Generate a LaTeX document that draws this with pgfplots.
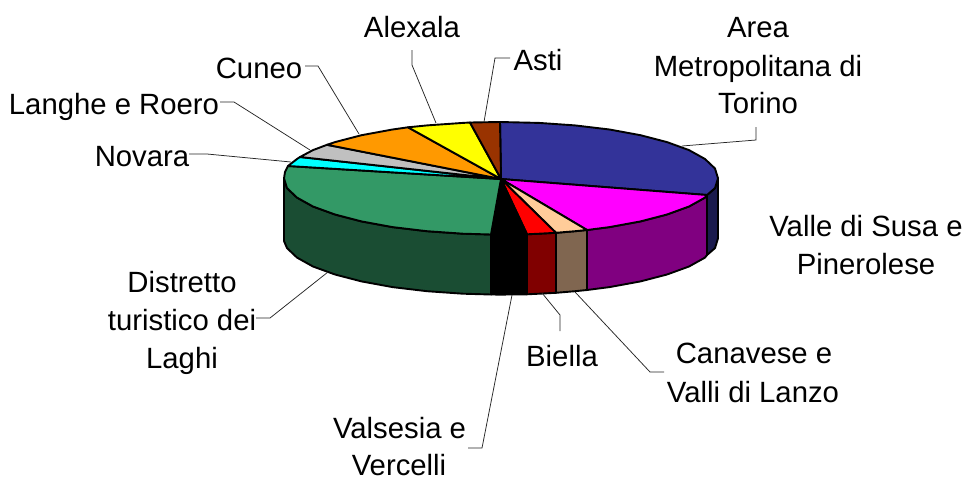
\documentclass[border=0pt]{standalone}
\usepackage{pgfplots}
\pgfplotsset{compat=1.18}
\usepackage{fontspec}
\setmainfont{Liberation Sans}
\definecolor{cBlue}{HTML}{333399}
\definecolor{cMag}{HTML}{FF00FF}
\definecolor{cPeach}{HTML}{FFCC99}
\definecolor{cRed}{HTML}{FF0000}
\definecolor{cGreen}{HTML}{339966}
\definecolor{cCyan}{HTML}{00FFFF}
\definecolor{cGrey}{HTML}{C0C0C0}
\definecolor{cOrange}{HTML}{FF9900}
\definecolor{cYellow}{HTML}{FFFF00}
\definecolor{cBrown}{HTML}{993300}
\definecolor{dBlue}{HTML}{1A1A4D}
\definecolor{dMag}{HTML}{800080}
\definecolor{dPeach}{HTML}{806650}
\definecolor{dRed}{HTML}{800000}
\definecolor{dGreen}{HTML}{1A4D33}
\tikzset{
  pie/.style={draw=black, line width=1.9pt, line join=round},
  leader/.style={draw=black!85, line width=0.75pt, line join=miter},
  lab/.style={anchor=base, align=center, inner sep=0pt, font=\fontsize{29.3}{37}\selectfont},
}
\begin{document}
\begin{tikzpicture}
\path[use as bounding box] (0,0) rectangle (965pt,477pt);
\begin{axis}[
  at={(0,0)}, anchor=south west, scale only axis,
  width=965pt, height=477pt,
  xmin=0, xmax=965, ymin=0, ymax=477, y dir=reverse,
  hide axis, clip=false,
]
% side walls
\addplot[pie, fill=dBlue] coordinates {(718,178.3)(715,188.1)(707,195)(707,255)(715,248.1)(718,238.3)} -- cycle;
\addplot[pie, fill=dMag] coordinates {(707,195)(705,197.6)(689,206.5)(667,214.5)(640.5,221.4)(609.5,227.1)(587,230)(587,290)(609.5,287.1)(640.5,281.4)(667,274.5)(689,266.5)(705,257.6)(707,255)} -- cycle;
\addplot[pie, fill=dPeach] coordinates {(587,230)(575,231.2)(556,232.8)(556,292.8)(575,291.2)(587,290)} -- cycle;
\addplot[pie, fill=dRed] coordinates {(556,232.8)(539,233.7)(527,234.3)(527,294.3)(539,293.7)(556,292.8)} -- cycle;
\addplot[pie, fill=black] coordinates {(527,234.3)(501,234.6)(491,234.5)(491,294.5)(501,294.6)(527,294.3)} -- cycle;
\addplot[pie, fill=dGreen] coordinates {(491,234.5)(463,233.7)(427,231.2)(392.5,227.1)(361.5,221.4)(335,214.5)(313,206.5)(297,197.6)(287,188.1)(284,178.3)(284,241)(287,248.1)(297,257.6)(313,266.5)(335,274.5)(361.5,281.4)(392.5,287.1)(427,291.2)(463,293.7)(491,294.5)} -- cycle;
% top faces
\addplot[pie, fill=cBlue] coordinates {(501,179)(500,122)(539,122.9)(575,125.4)(609.5,129.5)(640.5,135.2)(667,142.1)(689,150.1)(705,159)(715,168.5)(718,178.3)(715,188.1)(707,195)} -- cycle;
\addplot[pie, fill=cMag] coordinates {(501,179)(707,195)(705,197.6)(689,206.5)(667,214.5)(640.5,221.4)(609.5,227.1)(587,230)} -- cycle;
\addplot[pie, fill=cPeach] coordinates {(501,179)(587,230)(575,231.2)(556,232.8)} -- cycle;
\addplot[pie, fill=cRed] coordinates {(501,179)(556,232.8)(539,233.7)(527,234.3)} -- cycle;
\addplot[pie, fill=black] coordinates {(501,179)(527,234.3)(501,234.6)(491,234.5)} -- cycle;
\addplot[pie, fill=cGreen] coordinates {(501,179)(491,234.5)(463,233.7)(427,231.2)(392.5,227.1)(361.5,221.4)(335,214.5)(313,206.5)(297,197.6)(287,188.1)(284,178.3)(285,172)(288,166)} -- cycle;
\addplot[pie, fill=cCyan] coordinates {(501,179)(288,166)(297,159)(300,157)} -- cycle;
\addplot[pie, fill=cGrey] coordinates {(501,179)(300,157)(313,150.1)(327,144.8)} -- cycle;
\addplot[pie, fill=cOrange] coordinates {(501,179)(327,144.8)(335,142.1)(361.5,135.2)(392.5,129.5)(408,127.3)} -- cycle;
\addplot[pie, fill=cYellow] coordinates {(501,179)(408,127.3)(427,125.4)(463,122.9)(470,122.5)} -- cycle;
\addplot[pie, fill=cBrown] coordinates {(501,179)(470,122.5)(500,122)} -- cycle;
% leader lines
\addplot[leader] coordinates {(305,66)(318,66)(359,134)};
\addplot[leader] coordinates {(220,102)(234,102)(310,150)};
\addplot[leader] coordinates {(189,154)(207,154)(291,162)};
\addplot[leader] coordinates {(412,50)(412,65)(436,123)};
\addplot[leader] coordinates {(510,58)(495,58)(484,122)};
\addplot[leader] coordinates {(756,127)(756,140)(682,146)};
\addplot[leader] coordinates {(256,318)(270,318)(328,272)};
\addplot[leader] coordinates {(468,448)(482,448)(512,295)};
\addplot[leader] coordinates {(560,331)(560,315)(542,293)};
\addplot[leader] coordinates {(664,372)(650,372)(575,292)};
% labels
\node[lab] at (axis cs:758,37.5) {Area};
\node[lab] at (axis cs:758,76) {Metropolitana di};
\node[lab] at (axis cs:758,113) {Torino};
\node[lab] at (axis cs:412,37.5) {Alexala};
\node[lab] at (axis cs:538,70) {Asti};
\node[lab] at (axis cs:259,78) {Cuneo};
\node[lab] at (axis cs:114,114) {Langhe e Roero};
\node[lab] at (axis cs:142,166) {Novara};
\node[lab] at (axis cs:182,292) {Distretto};
\node[lab] at (axis cs:182,330) {turistico dei};
\node[lab] at (axis cs:182,368) {Laghi};
\node[lab] at (axis cs:399.5,438.5) {Valsesia e};
\node[lab] at (axis cs:399,475.5) {Vercelli};
\node[lab] at (axis cs:562,366) {Biella};
\node[lab] at (axis cs:754,363) {Canavese e};
\node[lab] at (axis cs:753,402) {Valli di Lanzo};
\node[lab] at (axis cs:866,236) {Valle di Susa e};
\node[lab] at (axis cs:866,274) {Pinerolese};
\end{axis}
\end{tikzpicture}
\end{document}
